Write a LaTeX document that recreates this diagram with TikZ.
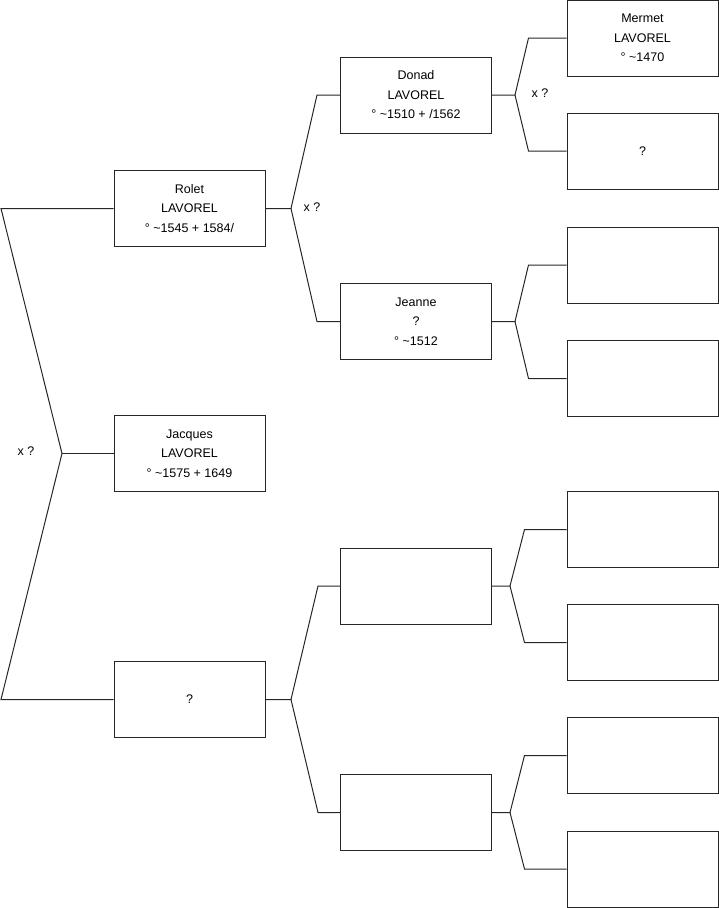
\documentclass[tikz,border=0pt]{standalone}
\usepackage{fontspec}
\setmainfont{Liberation Sans}
\usetikzlibrary{positioning}

\tikzset{
  person/.style={draw=black!85,rectangle,minimum width=151pt,minimum height=76pt,
    inner sep=0pt,align=center,font=\fontsize{12.5}{19.5}\selectfont},
  union/.style={font=\fontsize{12.5}{15}\selectfont,inner sep=0pt},
  link/.style={draw=black!85,line width=1pt}
}

\begin{document}
\begin{tikzpicture}[x=1pt,y=-1pt,line width=1pt]
\useasboundingbox (0,0) rectangle (719,908);
% generation 1
\node[person] (rolet) at (189.5,208.5) {Rolet\\LAVOREL\\° \textasciitilde1545 + 1584/};
\node[person] (jacques) at (189.5,453.5) {Jacques\\LAVOREL\\° \textasciitilde1575 + 1649};
\node[person] (unk) at (189.5,699.5) {?};
% generation 2
\node[person] (donad) at (416,95) {Donad\\LAVOREL\\° \textasciitilde1510 + /1562};
\node[person] (jeanne) at (416,321.5) {Jeanne\\?\\° \textasciitilde1512};
\node[person] (gp3) at (416,586) {};
\node[person] (gp4) at (416,812.5) {};
% generation 3
\node[person] (mermet) at (642.5,38) {Mermet\\LAVOREL\\° \textasciitilde1470};
\node[person] (gg2) at (642.5,151) {?};
\node[person] (gg3) at (642.5,265) {};
\node[person] (gg4) at (642.5,378.5) {};
\node[person] (gg5) at (642.5,529.5) {};
\node[person] (gg6) at (642.5,642.5) {};
\node[person] (gg7) at (642.5,755.5) {};
\node[person] (gg8) at (642.5,869) {};
% forks
\coordinate (f1a) at (1,208.5);
\coordinate (j1) at (62,453.5);
\coordinate (f1b) at (1,699.5);
\coordinate (j2) at (291,208.5);
\coordinate (j3) at (291,699.5);
\coordinate (j4) at (515,95);
\coordinate (j5) at (515,321.5);
\coordinate (j6) at (510,586);
\coordinate (j7) at (510,812.5);
\draw[link] (rolet.west) -- (f1a) -- (j1) -- (f1b) -- (unk.west);
\draw[link] (j1) -- (jacques.west);
\draw[link] (rolet.east) -- (j2) -- ([xshift=-23pt]donad.west) -- (donad.west);
\draw[link] (j2) -- ([xshift=-23pt]jeanne.west) -- (jeanne.west);
\draw[link] (unk.east) -- (j3) -- ([xshift=-22pt]gp3.west) -- (gp3.west);
\draw[link] (j3) -- ([xshift=-22pt]gp4.west) -- (gp4.west);
\draw[link] (donad.east) -- (j4) -- ([xshift=-38pt]mermet.west) -- (mermet.west);
\draw[link] (j4) -- ([xshift=-38pt]gg2.west) -- (gg2.west);
\draw[link] (jeanne.east) -- (j5) -- ([xshift=-38pt]gg3.west) -- (gg3.west);
\draw[link] (j5) -- ([xshift=-38pt]gg4.west) -- (gg4.west);
\draw[link] (gp3.east) -- (j6) -- ([xshift=-42pt]gg5.west) -- (gg5.west);
\draw[link] (j6) -- ([xshift=-42pt]gg6.west) -- (gg6.west);
\draw[link] (gp4.east) -- (j7) -- ([xshift=-42pt]gg7.west) -- (gg7.west);
\draw[link] (j7) -- ([xshift=-42pt]gg8.west) -- (gg8.west);
% marriage marks
\node[union] (x1) at (26,451) {x ?};
\node[union] (x2) at (312,207) {x ?};
\node[union] (x3) at (540,93) {x ?};
\end{tikzpicture}
\end{document}
